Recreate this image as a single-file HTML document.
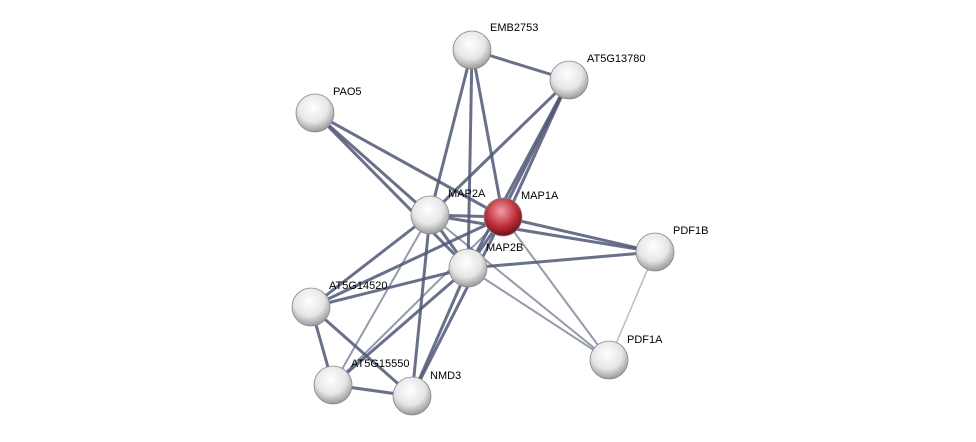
<!DOCTYPE html>
<html><head><meta charset="utf-8"><style>
html,body{margin:0;padding:0;background:#fff;}
svg{display:block;}
text{font-family:"Liberation Sans",Arial,sans-serif;font-size:11px;fill:#000;}
</style></head><body>
<svg width="976" height="442" viewBox="0 0 976 442" xmlns="http://www.w3.org/2000/svg">
<defs>
<radialGradient id="g" cx="45%" cy="35%" r="65%">
<stop offset="0" stop-color="#ffffff"/><stop offset="0.6" stop-color="#e6e6e6"/><stop offset="1" stop-color="#9a9a9a"/>
</radialGradient>
<radialGradient id="r" cx="45%" cy="35%" r="65%">
<stop offset="0" stop-color="#f0a0a8"/><stop offset="0.6" stop-color="#c0303c"/><stop offset="1" stop-color="#701018"/>
</radialGradient>
</defs>
<g stroke="#4f5775" stroke-linecap="round" fill="none">
<g stroke-width="3" stroke-opacity="0.85">
<line x1="472" y1="50" x2="569" y2="80"/>
<line x1="472" y1="50" x2="430" y2="215"/>
<line x1="472" y1="50" x2="503" y2="217"/>
<line x1="472" y1="50" x2="468" y2="268"/>
<line x1="569" y1="80" x2="430" y2="215"/>
<line x1="569" y1="80" x2="500" y2="217"/>
<line x1="569" y1="80" x2="506" y2="218"/>
<line x1="569" y1="80" x2="468" y2="268"/>
<line x1="315" y1="113" x2="430" y2="215"/>
<line x1="315" y1="113" x2="503" y2="217"/>
<line x1="315" y1="113" x2="468" y2="268"/>
<line x1="430" y1="215" x2="503" y2="217"/>
<line x1="430" y1="215" x2="468" y2="268"/>
<line x1="430" y1="215" x2="655" y2="252"/>
<line x1="503" y1="217" x2="655" y2="252"/>
<line x1="503" y1="217" x2="468" y2="268"/>
<line x1="468" y1="268" x2="655" y2="252"/>
<line x1="430" y1="215" x2="311" y2="307"/>
<line x1="468" y1="268" x2="311" y2="307"/>
<line x1="503" y1="217" x2="311" y2="307"/>
<line x1="430" y1="215" x2="412" y2="396"/>
<line x1="468" y1="268" x2="412" y2="396"/>
<line x1="503" y1="217" x2="412" y2="396"/>
<line x1="468" y1="268" x2="333" y2="385"/>
<line x1="311" y1="307" x2="333" y2="385"/>
<line x1="311" y1="307" x2="412" y2="396"/>
<line x1="333" y1="385" x2="412" y2="396"/>
</g>
<g stroke-width="2" stroke-opacity="0.6">
<line x1="430" y1="215" x2="333" y2="385"/>
<line x1="503" y1="217" x2="333" y2="385"/>
<line x1="430" y1="215" x2="609" y2="360"/>
<line x1="503" y1="217" x2="609" y2="360"/>
<line x1="468" y1="268" x2="609" y2="360"/>
</g>
<line x1="655" y1="252" x2="609" y2="360" stroke="#b8bccb" stroke-width="1.5"/>
</g>
<g stroke="#888" stroke-width="0.8">
<circle cx="472" cy="50" r="19" fill="url(#g)"/>
<circle cx="569" cy="80" r="19" fill="url(#g)"/>
<circle cx="315" cy="113" r="19" fill="url(#g)"/>
<circle cx="430" cy="215" r="19" fill="url(#g)"/>
<circle cx="503" cy="217" r="19" fill="url(#r)"/>
<circle cx="655" cy="252" r="19" fill="url(#g)"/>
<circle cx="468" cy="268" r="19" fill="url(#g)"/>
<circle cx="311" cy="307" r="19" fill="url(#g)"/>
<circle cx="609" cy="360" r="19" fill="url(#g)"/>
<circle cx="333" cy="385" r="19" fill="url(#g)"/>
<circle cx="412" cy="396" r="19" fill="url(#g)"/>
</g>
<text x="490" y="31">EMB2753</text>
<text x="587" y="62">AT5G13780</text>
<text x="333" y="95">PAO5</text>
<text x="448" y="197">MAP2A</text>
<text x="521" y="199">MAP1A</text>
<text x="486" y="251">MAP2B</text>
<text x="673" y="234">PDF1B</text>
<text x="329" y="289">AT5G14520</text>
<text x="627" y="343">PDF1A</text>
<text x="351" y="367">AT5G15550</text>
<text x="430" y="379">NMD3</text>
</svg>
</body></html>
